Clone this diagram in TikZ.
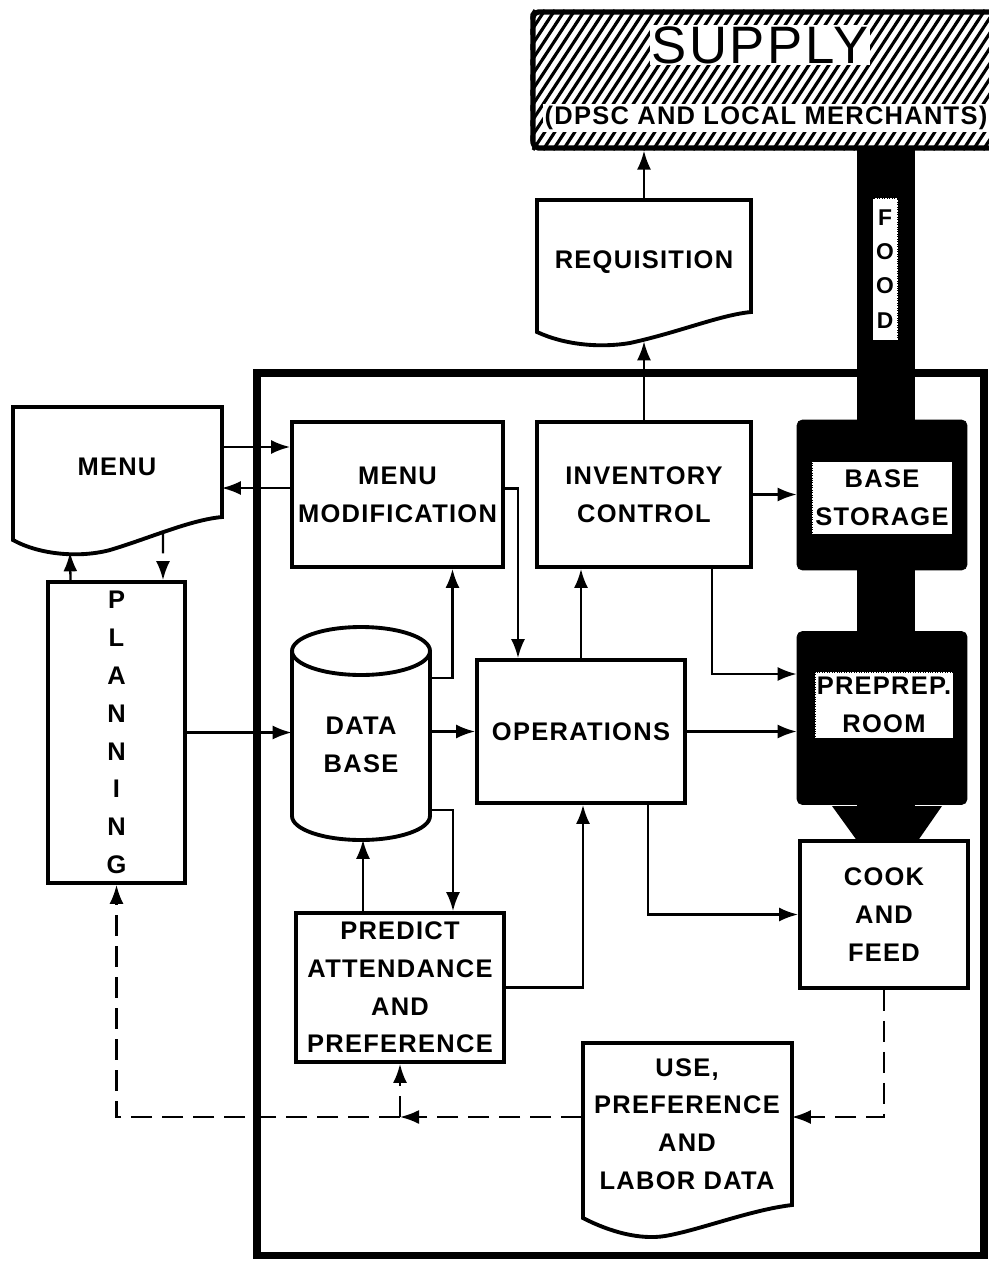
\documentclass[tikz,border=0pt]{standalone}
\usepackage{fontspec}
\setmainfont{Liberation Sans}
\newfontfamily\letterfont[LetterSpace=5]{Liberation Sans}
\usepackage{tikz}
\usetikzlibrary{arrows.meta, positioning, calc, backgrounds}
\tikzset{
  procbox/.style  = {draw=black, line width=2.2pt, fill=white},
  darkbox/.style  = {draw=black, fill=black, rounded corners=3pt},
  labelbox/.style = {draw=black, densely dotted, thin, fill=white, inner sep=1pt},
}

\begin{document}
\begin{tikzpicture}[
            x=0.02cm, y=-0.02cm,
            >={Latex[length=0.38cm, width=0.28cm]},
            every node/.style={font=\letterfont\bfseries\fontsize{14.5}{21.5}\selectfont,
                    align=center},
            block/.style ={procbox, inner sep=2pt},
            doc/.style   ={inner sep=2pt},
            outline/.style={line width=2.2pt, fill=white},
            flow/.style  ={->, line width=1.3pt},
            fb/.style    ={->, line width=1.3pt, dash pattern=on 0.42cm off 0.2cm},
        ]
        \useasboundingbox (0,0) rectangle (988,1261);

        %% --- frame of the food service system ------------------------------
        \draw[line width=4pt] (257,373) rectangle (984,1255);

        %% --- supply (hatched) ----------------------------------------------
        \node[draw, line width=3pt, rounded corners=3pt,
                minimum width=9.4cm, minimum height=2.72cm] (supply) at (768,80) {};
        \begin{pgfonlayer}{background}
            \begin{scope}
                \clip (supply.south west) rectangle (supply.north east);
                \foreach \i in {-10,...,48}
                    \draw[line width=1.8pt] (533+10*\i,150) -- ++(92,-140);
            \end{scope}
        \end{pgfonlayer}
        \node[fill=white, inner sep=1pt, font=\letterfont\fontsize{30}{30}\selectfont]
            (supplyt) at (760,45) {SUPPLY};
        \node[fill=white, inner sep=1pt] (supplysub) at (766,118)
            {(DPSC AND LOCAL MERCHANTS)};

        %% --- food stream (black) -------------------------------------------
        \fill (857,148) rectangle (915,812);
        \fill (832,806) -- (942,806) -- (917,842) -- (858,842) -- cycle;
        \node[labelbox, inner sep=0pt, minimum width=0.5cm, minimum height=2.84cm,
                font=\letterfont\bfseries\fontsize{13}{19.5}\selectfont]
            (foodlbl) at (885,269) {F\\O\\O\\D};

        \node[darkbox, minimum width=3.4cm, minimum height=3cm] (base) at (882,495) {};
        \node[labelbox, minimum width=2.8cm, minimum height=1.46cm] (basel) at (882,498)
            {BASE\\STORAGE};
        \node[darkbox, minimum width=3.4cm, minimum height=3.46cm] (prep) at (882,718) {};
        \node[labelbox, minimum width=2.76cm, minimum height=1.32cm] (prepl) at (884,705)
            {PREPREP.\\ROOM};

        %% --- documents -----------------------------------------------------
        \draw[outline] (537,200) -- (751,200) -- (751,312)
            .. controls (720,315) and (680,332) .. (630,343)
            .. controls (600,348) and (565,345) .. (537,332) -- cycle;
        \node[doc, minimum width=4.28cm, minimum height=2.48cm] (req) at (644,262)
            {REQUISITION};

        \draw[outline] (13,407) -- (222,407) -- (222,517)
            .. controls (190,520) and (150,538) .. (110,550)
            .. controls (80,558) and (40,555) .. (13,540) -- cycle;
        \node[doc, minimum width=4.18cm, minimum height=2.4cm] (menu) at (117,467) {MENU};

        \draw[outline] (583,1043) -- (792,1043) -- (792,1205)
            .. controls (750,1210) and (700,1230) .. (665,1236)
            .. controls (640,1240) and (610,1232) .. (583,1218) -- cycle;
        \node[doc, minimum width=4.18cm, minimum height=3.24cm] (use) at (687,1124)
            {USE,\\PREFERENCE\\AND\\LABOR DATA};

        %% --- data base (cylinder) ------------------------------------------
        \draw[line width=2.2pt, fill=white] (292,651) -- (292,816)
            arc[start angle=180, end angle=360, x radius=1.38cm, y radius=0.48cm]
            -- (430,651);
        \draw[line width=2.2pt] (361,651) ellipse [x radius=1.38cm, y radius=0.48cm];
        \node[doc, minimum width=2.76cm, minimum height=4.7cm] (db) at (361,745)
            {DATA\\BASE};

        %% --- process blocks ------------------------------------------------
        \node[block, minimum width=4.22cm, minimum height=2.9cm] (menumod) at (397.5,494.5)
            {MENU\\MODIFICATION};
        \node[block, minimum width=4.28cm, minimum height=2.9cm] (inv) at (644,494.5)
            {INVENTORY\\CONTROL};
        \node[block, minimum width=4.16cm, minimum height=2.86cm] (ops) at (581,731.5)
            {OPERATIONS};
        \node[block, minimum width=4.16cm, minimum height=2.98cm] (predict) at (400,987.5)
            {PREDICT\\ATTENDANCE\\AND\\PREFERENCE};
        \node[block, minimum width=3.36cm, minimum height=2.94cm] (cook) at (884,914.5)
            {COOK\\AND\\FEED};
        \node[block, minimum width=2.74cm, minimum height=6.02cm] (planning) at (116.5,732.5)
            {P\\L\\A\\N\\N\\I\\N\\G};

        %% --- flows (solid) -------------------------------------------------
        \draw[flow] (req.north) -- (req.north |- supply.south);
        \draw[flow] (inv.north) -- ($(req.south)+(0,17)$);
        \draw[flow] ($(menu.east)+(0,-20)$) coordinate (m1) -- (m1 -| menumod.west);
        \path ($(menu.east)+(0,21)$) coordinate (m2);
        \draw[flow] (m2 -| menumod.west) -- (m2);
        \draw[flow] ($(planning.north)+(-46,0)$) -- ($(menu.south)+(-47,25)$);
        \draw[flow] (planning.east) -- (planning.east -| db.west);
        \draw[flow] (ops.west -| db.east) -- (ops.west);
        \draw[flow] (ops.east) -- (ops.east -| prep.west);
        \draw[flow] (inv.east) -- (inv.east -| base.west);
        \draw[flow] ($(inv.south)+(68,0)$) |- ($(prep.west)+(0,-44)$);
        \draw[flow] ($(db.east)+(0,-67)$) -| ($(menumod.south)+(55,0)$);
        \draw[flow] ($(menumod.east)+(0,-6)$) -| ($(ops.north)+(-63,0)$);
        \draw[flow] (ops.north) -- (ops.north |- inv.south);
        \draw[flow] ($(db.east)+(0,65)$) -| ($(predict.north)+(53,0)$);
        \draw[flow] ($(predict.north)+(-37,0)$) -- ($(db.south)+(2,-23)$);
        \draw[flow] (predict.east) -| ($(ops.south)+(2,0)$);
        \draw[flow] ($(ops.south)+(67,0)$) |- (cook.west);

        %% --- feedback (dashed) ---------------------------------------------
        \draw[fb] ($(menu.south)+(46,5)$) -- ($(planning.north)+(46.5,0)$);
        \draw[fb] (cook.south) |- ($(use.east)+(0,-7)$);
        \path ($(use.west)+(0,-7)$) coordinate (u1);
        \coordinate (jn) at (u1 -| predict.south);
        \draw[fb] (u1) -- (jn);
        \draw[fb] (jn) -- (predict.south);
        \draw[fb] (jn) -| (planning.south);

    \end{tikzpicture}
\end{document}
